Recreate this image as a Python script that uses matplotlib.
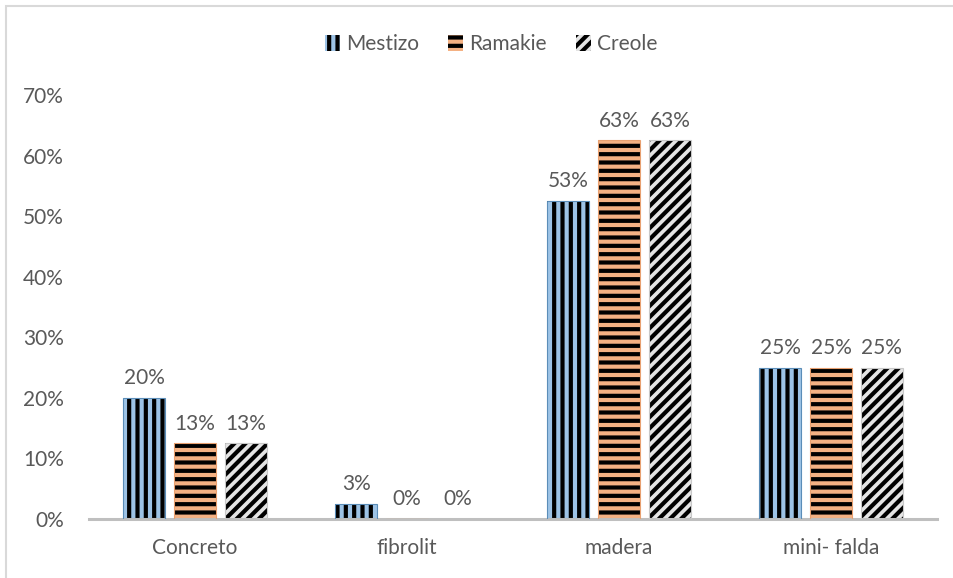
import matplotlib.pyplot as plt
import numpy as np
from matplotlib.patches import Rectangle
from decimal import Decimal, ROUND_HALF_UP

categories = ['Concreto', 'fibrolit', 'madera', 'mini- falda']
series_names = ['Mestizo', 'Ramakie', 'Creole']
mestizo = [0.20, 0.025, 0.525, 0.25]
ramakie = [0.125, 0.0, 0.625, 0.25]
creole = [0.125, 0.0, 0.625, 0.25]
y_ticks = [0, 0.1, 0.2, 0.3, 0.4, 0.5, 0.6, 0.7]

plt.rcParams['font.family'] = ['Lato', 'DejaVu Sans']
plt.rcParams['hatch.linewidth'] = 3.0

text_color = '#595959'
fills = ['#9DC3E6', '#F4B183', '#E4E4E4']
edges = ['#5B8DB8', '#E8A070', '#C8C8C8']
hatches = ['||', '--', '///']
fs = 15


def pct(v):
    # spreadsheet-style rounding (half up)
    return f"{Decimal(str(v * 100)).quantize(Decimal('1'), rounding=ROUND_HALF_UP)}%"


fig = plt.figure(figsize=(9.54, 5.78), dpi=100)
ax = fig.add_axes([89 / 954, 59 / 578, 848 / 954, 424 / 578])

# light frame around the whole chart
fig.patches.append(Rectangle((6 / 954, -0.1), 1.2, (578 - 6) / 578 + 0.1,
                             transform=fig.transFigure, fill=False,
                             edgecolor='#D9D9D9', linewidth=1.5))

x = np.arange(len(categories))
width = 0.2
step = 0.24
handles = []
for i, (name, vals) in enumerate(zip(series_names, [mestizo, ramakie, creole])):
    pos = x + (i - 1) * step
    bars = ax.bar(pos, vals, width, color=fills[i], edgecolor='black',
                  hatch=hatches[i], linewidth=0, zorder=2)
    ax.bar(pos, vals, width, fill=False, edgecolor=edges[i], linewidth=0.8, zorder=3)
    handles.append(bars)
    for p, v in zip(pos, vals):
        ax.text(p, v + 0.016, pct(v), ha='center', va='bottom',
                fontsize=fs, color=text_color)

ax.set_xlim(-0.5, len(categories) - 0.5)
ax.set_ylim(0, 0.7)
ax.set_yticks(y_ticks)
ax.set_yticklabels([f'{int(round(t * 100))}%' for t in y_ticks])
ax.set_xticks(x)
ax.set_xticklabels(categories)
ax.tick_params(axis='both', length=0, labelsize=fs, colors=text_color)
ax.tick_params(axis='y', pad=18)
ax.tick_params(axis='x', pad=14)
for s in ['top', 'right', 'left']:
    ax.spines[s].set_visible(False)
ax.spines['bottom'].set_color('#BFBFBF')
ax.spines['bottom'].set_linewidth(2.2)

leg = fig.legend(handles, series_names, loc='center', bbox_to_anchor=(0.515, 1 - 44 / 578),
                 ncol=3, frameon=False, fontsize=fs, handlelength=0.7, handleheight=0.8,
                 handletextpad=0.3, columnspacing=1.4)
for t in leg.get_texts():
    t.set_color(text_color)

fig.savefig('out.png', dpi=100)
